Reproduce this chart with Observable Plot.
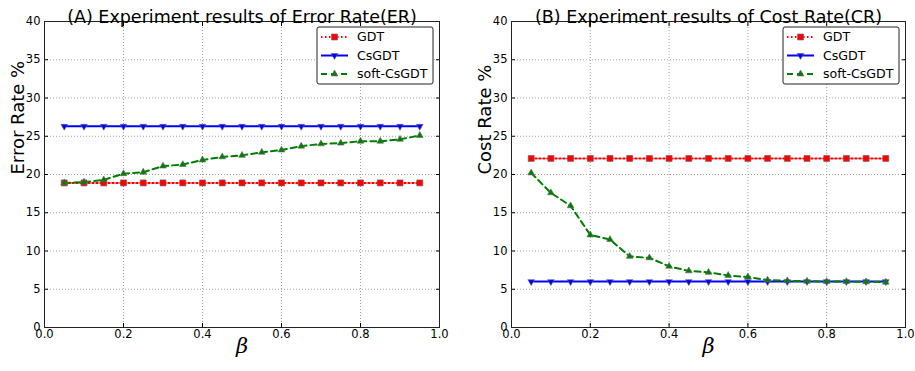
<!DOCTYPE html>
<html><head><meta charset="utf-8">
<script src="https://cdn.jsdelivr.net/npm/d3@7"></script>
<script src="https://cdn.jsdelivr.net/npm/@observablehq/plot@0.6"></script>
<style>
body{margin:0;background:#fff;font-family:"DejaVu Sans",sans-serif;}
#wrap{position:relative;width:915px;height:371px;overflow:hidden;background:#fff;}
.panel{position:absolute;top:0;}
</style></head><body><div id="wrap"></div>
<script>
const beta = [0.05,0.10,0.15,0.20,0.25,0.30,0.35,0.40,0.45,0.50,0.55,0.60,0.65,0.70,0.75,0.80,0.85,0.90,0.95];
const seriesNames = ["GDT","CsGDT","soft-CsGDT"];
const gdtER   = [18.9,18.9,18.9,18.9,18.9,18.9,18.9,18.9,18.9,18.9,18.9,18.9,18.9,18.9,18.9,18.9,18.9,18.9,18.9];
const csgdtER = [26.3,26.3,26.3,26.3,26.3,26.3,26.3,26.3,26.3,26.3,26.3,26.3,26.3,26.3,26.3,26.3,26.3,26.3,26.3];
const softER  = [18.9,19.0,19.3,20.1,20.3,21.1,21.3,21.9,22.3,22.5,22.9,23.2,23.7,24.0,24.1,24.35,24.35,24.6,25.1];
const gdtCR   = [22.1,22.1,22.1,22.1,22.1,22.1,22.1,22.1,22.1,22.1,22.1,22.1,22.1,22.1,22.1,22.1,22.1,22.1,22.1];
const csgdtCR = [6.0,6.0,6.0,6.0,6.0,6.0,6.0,6.0,6.0,6.0,6.0,6.0,6.0,6.0,6.0,6.0,6.0,6.0,6.0];
const softCR  = [20.2,17.6,15.9,12.1,11.5,9.3,9.1,8.0,7.4,7.2,6.8,6.6,6.2,6.1,6.05,6.0,6.0,5.97,5.92];
const xTicks = [0,0.2,0.4,0.6,0.8,1.0];
const yTicks = [0,5,10,15,20,25,30,35,40];
const titles = ["(A) Experiment results of Error Rate(ER)", "(B) Experiment results of Cost Rate(CR)"];
const yLabels = ["Error Rate %", "Cost Rate %"];
const xLabel = "\u03B2";

const styles = {
  "GDT":        {color:"#ff0000", dash:"1.5,2.5", symbol:"square", rotate:0, r:3.4},
  "CsGDT":      {color:"#0000ff", dash:null, symbol:"triangle", rotate:180, r:2.5},
  "soft-CsGDT": {color:"#007f00", dash:"6,4", symbol:"triangle", rotate:0, r:2.5}
};

function makePanel(idx, series, left, marginLeft, marginRight) {
  const W = 457, H = 371, mt = 21, mb = 44;
  const rows = [];
  seriesNames.forEach((s, i) => beta.forEach((b, j) => rows.push({series: s, beta: b, value: series[i][j]})));
  const marks = [
    Plot.gridX(xTicks, {stroke: "#888", strokeOpacity: 1, strokeWidth: 0.8, strokeDasharray: "1,2"}),
    Plot.gridY(yTicks, {stroke: "#888", strokeOpacity: 1, strokeWidth: 0.8, strokeDasharray: "1,2"}),
    Plot.axisX(xTicks, {anchor: "bottom", tickSize: 0, tickPadding: 2, tickFormat: d3.format(".1f"), label: null, fontSize: 11.5}),
    Plot.axisY(yTicks, {anchor: "left", tickSize: 0, tickPadding: 4, label: null, fontSize: 11.5}),
    Plot.axisX(xTicks, {anchor: "bottom", tickSize: -4, tickFormat: () => "", label: null}),
    Plot.axisX(xTicks, {anchor: "top", tickSize: -4, tickFormat: () => "", label: null}),
    Plot.axisY(yTicks, {anchor: "left", tickSize: -4, tickFormat: () => "", label: null}),
    Plot.axisY(yTicks, {anchor: "right", tickSize: -4, tickFormat: () => "", label: null})
  ];
  seriesNames.forEach(s => {
    const st = styles[s];
    const d = rows.filter(r => r.series === s);
    marks.push(Plot.line(d, {x: "beta", y: "value", stroke: st.color, strokeWidth: 2, strokeDasharray: st.dash}));
  });
  seriesNames.forEach(s => {
    const st = styles[s];
    const d = rows.filter(r => r.series === s);
    marks.push(Plot.dot(d, {x: "beta", y: "value", symbol: () => st.symbol, fill: st.color, stroke: "#666", strokeWidth: 0.6, r: st.r, rotate: st.rotate}));
  });
  marks.push(
    Plot.frame({stroke: "#222", strokeWidth: 1}),
    Plot.text([titles[idx]], {frameAnchor: "top", dy: -11, fontSize: 17.5, fill: "black"}),
    Plot.text([yLabels[idx]], {frameAnchor: "left", rotate: -90, dx: -26, fontSize: 18, fill: "black"}),
    Plot.text([xLabel], {frameAnchor: "bottom", dy: 25, fontSize: 21, fontStyle: "italic", fontFamily: "DejaVu Serif", fill: "black"})
  );
  const svg = Plot.plot({
    width: W, height: H, marginLeft, marginRight, marginTop: mt, marginBottom: mb,
    style: {fontFamily: "DejaVu Sans", background: "transparent", color: "black", overflow: "visible"},
    x: {domain: [0, 1]},
    y: {domain: [0, 40]},
    symbol: {type: "identity"},
    marks
  });
  // legend
  const fr = W - marginRight;
  const bw = 116, bh = 57;
  const bx = fr - 6 - bw, by = mt + 6;
  const g = d3.select(svg).append("g").attr("font-family", "DejaVu Sans").attr("font-size", 12.6).attr("text-anchor", "start");
  g.append("rect").attr("x", bx).attr("y", by).attr("width", bw).attr("height", bh)
    .attr("rx", 2).attr("fill", "white").attr("stroke", "#222").attr("stroke-width", 1);
  seriesNames.forEach((s, i) => {
    const st = styles[s];
    const cy = by + 10 + i * 18.5;
    g.append("line").attr("x1", bx + 4).attr("x2", bx + 31).attr("y1", cy).attr("y2", cy)
      .attr("stroke", st.color).attr("stroke-width", 2).attr("stroke-dasharray", st.dash);
    const sym = st.symbol === "square" ? d3.symbolSquare : d3.symbolTriangle;
    g.append("path").attr("d", d3.symbol(sym, Math.PI * st.r * st.r)())
      .attr("transform", `translate(${bx + 17.5},${cy}) rotate(${st.rotate})`)
      .attr("fill", st.color).attr("stroke", "#666").attr("stroke-width", 0.6);
    g.append("text").attr("x", bx + 40).attr("y", cy).attr("dy", "0.35em").attr("fill", "black").attr("text-anchor", "start").text(s);
  });
  svg.classList.add("panel");
  svg.style.left = left + "px";
  document.getElementById("wrap").appendChild(svg);
}

makePanel(0, [gdtER, csgdtER, softER], 0, 44, 18);
makePanel(1, [gdtCR, csgdtCR, softCR], 458, 53, 10);
</script></body></html>
